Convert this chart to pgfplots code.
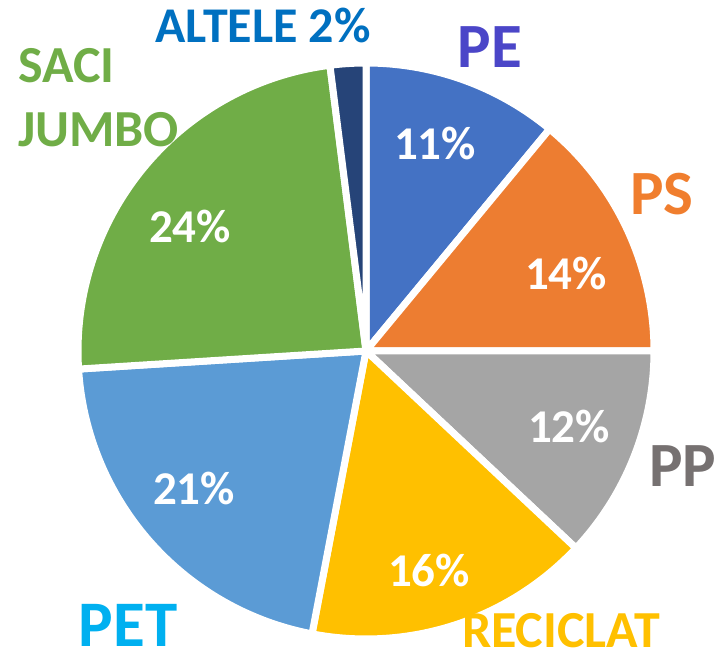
\documentclass[border=0pt]{standalone}
\usepackage{pgfplots}
\usepackage{pgfplotstable}
\pgfplotsset{compat=1.18}
\usepackage{fontspec}
\setmainfont{Carlito}
\definecolor{cPE}{HTML}{4472C4}
\definecolor{cPS}{HTML}{ED7D31}
\definecolor{cPP}{HTML}{A5A5A5}
\definecolor{cREC}{HTML}{FFC000}
\definecolor{cPET}{HTML}{5B9BD5}
\definecolor{cSACI}{HTML}{70AD47}
\definecolor{cALT}{HTML}{264478}
\definecolor{lPE}{RGB}{75,70,200}
\definecolor{lPS}{HTML}{F07E2E}
\definecolor{lPP}{RGB}{118,113,113}
\definecolor{lREC}{HTML}{FFC000}
\definecolor{lPET}{HTML}{00B0F0}
\definecolor{lSACI}{HTML}{70AD47}
\definecolor{lALT}{HTML}{0070C0}
\pgfplotstableread{
name value color
PE 11 cPE
PS 14 cPS
PP 12 cPP
RECICLAT 16 cREC
PET 21 cPET
SACI 24 cSACI
ALTELE 2 cALT
}\piedata
\newcommand{\cx}{366}
\newcommand{\cy}{312}
\newcommand{\rr}{288}
\begin{document}
\begin{tikzpicture}
\begin{axis}[width=720pt, height=663pt, scale only axis, hide axis,
  xmin=0, xmax=720, ymin=0, ymax=663, clip=false]
\addplot[draw=none] coordinates {(0,0) (720,663)};
\def\cum{0}
\pgfplotsforeachungrouped \i in {0,...,6}{%
  \pgfplotstablegetelem{\i}{value}\of\piedata \let\v\pgfplotsretval
  \pgfplotstablegetelem{\i}{color}\of\piedata \let\c\pgfplotsretval
  \pgfmathsetmacro\a{90-3.6*\cum}%
  \pgfmathsetmacro\b{90-3.6*(\cum+\v)}%
  \pgfmathsetmacro\cum{\cum+\v}%
  \edef\doslice{\noexpand\addplot[fill=\c, draw=white, line width=7pt, line join=round,
     domain=\b:\a, samples=90, variable=\noexpand\t]
     ({\cx+\rr*cos(\noexpand\t)},{\cy+\rr*sin(\noexpand\t)}) -- (axis cs:\cx,\cy) -- cycle;}%
  \doslice
}
\begin{scope}[font=\bfseries]
\node[anchor=base, text=white, font=\bfseries\fontsize{47}{50}\selectfont] at (axis cs:435,503) {11\%};
\node[anchor=base, text=white, font=\bfseries\fontsize{47}{50}\selectfont] at (axis cs:566,373) {14\%};
\node[anchor=base, text=white, font=\bfseries\fontsize{47}{50}\selectfont] at (axis cs:569,220) {12\%};
\node[anchor=base, text=white, font=\bfseries\fontsize{47}{50}\selectfont] at (axis cs:429,76) {16\%};
\node[anchor=base, text=white, font=\bfseries\fontsize{47}{50}\selectfont] at (axis cs:194,158) {21\%};
\node[anchor=base, text=white, font=\bfseries\fontsize{47}{50}\selectfont] at (axis cs:190,420) {24\%};
\node[anchor=base, text=lPE, font=\bfseries\fontsize{63}{66}\selectfont] at (axis cs:490,595) {PE};
\node[anchor=base, text=lPS, font=\bfseries\fontsize{63}{66}\selectfont] at (axis cs:662,448) {PS};
\node[anchor=base, text=lPP, font=\bfseries\fontsize{63}{66}\selectfont] at (axis cs:683,176) {PP};
\node[anchor=base, text=lPET, font=\bfseries\fontsize{65}{68}\selectfont] at (axis cs:128,16) {PET};
\node[anchor=base, text=lREC, font=\bfseries\fontsize{52}{55}\selectfont] at (axis cs:561,15) {RECICLAT};
\node[anchor=base, text=lALT, font=\bfseries\fontsize{50}{53}\selectfont] at (axis cs:263,620) {ALTELE 2\%};
\node[anchor=base west, inner sep=0pt, text=lSACI, font=\bfseries\fontsize{52}{55}\selectfont] at (axis cs:18,580) {SACI};
\node[anchor=base west, inner sep=0pt, text=lSACI, font=\bfseries\fontsize{52}{55}\selectfont] at (axis cs:18,516) {JUMBO};
\end{scope}
\end{axis}
\end{tikzpicture}
\end{document}
